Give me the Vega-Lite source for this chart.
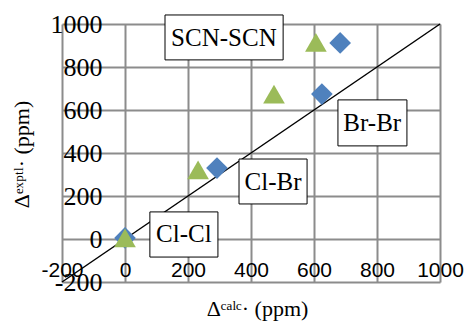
{
  "$schema": "https://vega.github.io/schema/vega-lite/v6.json",
  "width": 378,
  "height": 258,
  "autosize": "none",
  "padding": {"left": 62, "top": 24, "right": 29, "bottom": 39},
  "background": "white",
  "config": {"view": {"stroke": null}},
  "datasets": {
    "pts": [
      {"calc": 0, "expt": 5, "series": "diamond"},
      {"calc": 292, "expt": 330, "series": "diamond"},
      {"calc": 625, "expt": 674, "series": "diamond"},
      {"calc": 683, "expt": 912, "series": "diamond"},
      {"calc": 0, "expt": 5, "series": "triangle"},
      {"calc": 232, "expt": 321, "series": "triangle"},
      {"calc": 473, "expt": 674, "series": "triangle"},
      {"calc": 606, "expt": 915, "series": "triangle"}
    ],
    "diag": [{"calc": -200, "expt": -200}, {"calc": 1000, "expt": 1000}],
    "boxes": [
      {"label": "SCN-SCN", "x1": 127, "x2": 502, "y1": 833, "y2": 1042, "xc": 314, "yc": 935},
      {"label": "Br-Br", "x1": 676, "x2": 895, "y1": 433, "y2": 647, "xc": 785, "yc": 540},
      {"label": "Cl-Br", "x1": 362, "x2": 578, "y1": 163, "y2": 372, "xc": 470, "yc": 267},
      {"label": "Cl-Cl", "x1": 79, "x2": 295, "y1": -84, "y2": 126, "xc": 187, "yc": 21}
    ]
  },
  "layer": [
    {
      "data": {"name": "diag"},
      "mark": {"type": "line", "color": "black", "strokeWidth": 1.5},
      "encoding": {
        "x": {
          "field": "calc", "type": "quantitative",
          "scale": {"domain": [-200, 1000], "nice": false, "zero": false},
          "axis": {
            "values": [-200, 0, 200, 400, 600, 800, 1000],
            "labelExpr": "'' + datum.value",
            "grid": true, "gridColor": "#8c8c8c", "gridWidth": 2,
            "domain": false, "ticks": false,
            "labelFont": "Liberation Sans", "labelFontSize": 21, "labelColor": "black",
            "labelBaseline": "alphabetic", "labelPadding": -6,
            "labelOverlap": false, "labelBound": false, "labelFlush": false,
            "title": "Δᶜᵃˡᶜ· (ppm)",
            "titleFont": "Liberation Serif", "titleFontSize": 22, "titleFontWeight": "normal", "titleColor": "black",
            "titleX": 195, "titleY": 26, "titleAlign": "center", "titleBaseline": "middle"
          }
        },
        "y": {
          "field": "expt", "type": "quantitative",
          "scale": {"domain": [-200, 1000], "nice": false, "zero": false},
          "axis": {
            "values": [-200, 0, 200, 400, 600, 800, 1000],
            "labelExpr": "'' + datum.value",
            "grid": true, "gridColor": "#8c8c8c", "gridWidth": 2,
            "domain": false, "ticks": false,
            "labelFont": "Liberation Serif", "labelFontSize": 26, "labelColor": "black",
            "labelAlign": "right", "labelBaseline": "middle", "labelPadding": -40,
            "labelOverlap": false, "labelBound": false, "labelFlush": false,
            "title": "Δᵉˣᵖᵗˡ· (ppm)",
            "titleFont": "Liberation Serif", "titleFontSize": 22, "titleFontWeight": "normal", "titleColor": "black",
            "titleX": -41, "titleY": 130, "titleAngle": 270, "titleAlign": "center", "titleBaseline": "middle"
          }
        }
      }
    },
    {
      "data": {"name": "boxes"},
      "mark": {"type": "rect", "fill": "white", "stroke": "black", "strokeWidth": 1},
      "encoding": {
        "x": {"field": "x1", "type": "quantitative"},
        "x2": {"field": "x2"},
        "y": {"field": "y1", "type": "quantitative"},
        "y2": {"field": "y2"}
      }
    },
    {
      "data": {"name": "boxes"},
      "mark": {"type": "text", "font": "Liberation Serif", "fontSize": 25, "color": "black", "align": "center", "baseline": "middle"},
      "encoding": {
        "x": {"field": "xc", "type": "quantitative"},
        "y": {"field": "yc", "type": "quantitative"},
        "text": {"field": "label"}
      }
    },
    {
      "data": {"name": "pts"},
      "mark": {"type": "point", "filled": true, "opacity": 1},
      "encoding": {
        "x": {"field": "calc", "type": "quantitative"},
        "y": {"field": "expt", "type": "quantitative"},
        "shape": {"field": "series", "type": "nominal", "scale": {"domain": ["diamond", "triangle"], "range": ["diamond", "triangle-up"]}, "legend": null},
        "color": {"field": "series", "type": "nominal", "scale": {"domain": ["diamond", "triangle"], "range": ["#4f81bd", "#9bbb59"]}, "legend": null},
        "size": {"value": 470}
      }
    }
  ]
}
